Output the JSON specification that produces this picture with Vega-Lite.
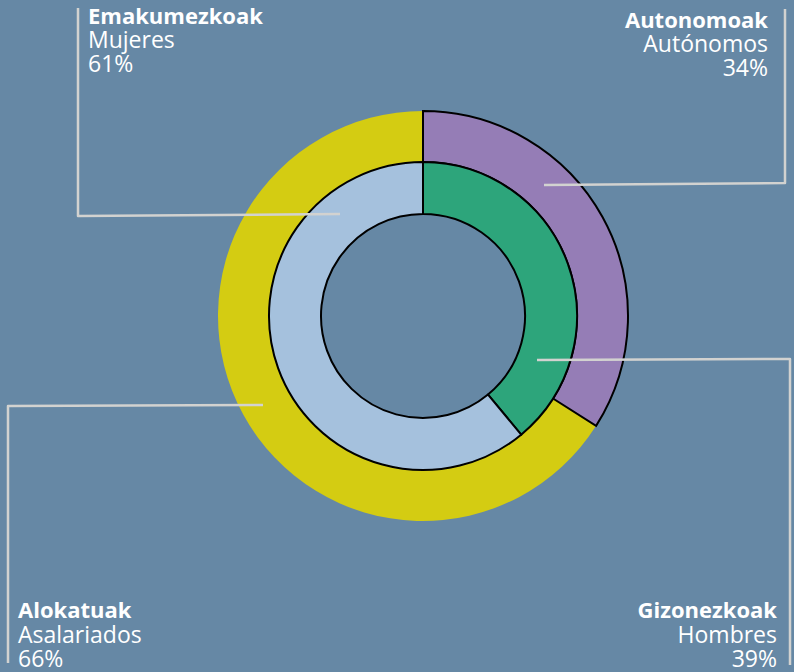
{
  "$schema": "https://vega.github.io/schema/vega-lite/v6.json",
  "width": 794,
  "height": 672,
  "autosize": {"type": "fit", "contains": "padding"},
  "padding": 0,
  "background": "#6688A5",
  "config": {"view": {"stroke": null}, "font": "Open Sans"},
  "datasets": {
    "rings": [
      {"ring": "outer", "key": "Autonomoak", "value": 34, "k": 1},
      {"ring": "outer", "key": "Alokatuak", "value": 66, "k": 2},
      {"ring": "inner", "key": "Gizonezkoak", "value": 39, "k": 1},
      {"ring": "inner", "key": "Emakumezkoak", "value": 61, "k": 2}
    ],
    "leaders": [
      {"g": "Emakumezkoak", "i": 1, "x": 78, "y": 8},
      {"g": "Emakumezkoak", "i": 2, "x": 78, "y": 216},
      {"g": "Emakumezkoak", "i": 3, "x": 340, "y": 214},
      {"g": "Autonomoak", "i": 1, "x": 544, "y": 185},
      {"g": "Autonomoak", "i": 2, "x": 785, "y": 183},
      {"g": "Autonomoak", "i": 3, "x": 785, "y": 9},
      {"g": "Gizonezkoak", "i": 1, "x": 537, "y": 360},
      {"g": "Gizonezkoak", "i": 2, "x": 790, "y": 359},
      {"g": "Gizonezkoak", "i": 3, "x": 790, "y": 665},
      {"g": "Alokatuak", "i": 1, "x": 263, "y": 405},
      {"g": "Alokatuak", "i": 2, "x": 8, "y": 406},
      {"g": "Alokatuak", "i": 3, "x": 8, "y": 663}
    ],
    "labels": [
      {"line": 1, "side": "left", "t": "Emakumezkoak", "x": 88, "y": 24},
      {"line": 2, "side": "left", "t": "Mujeres", "x": 88, "y": 48},
      {"line": 3, "side": "left", "t": "61%", "x": 88, "y": 72},
      {"line": 1, "side": "right", "t": "Autonomoak", "x": 768, "y": 28},
      {"line": 2, "side": "right", "t": "Autónomos", "x": 768, "y": 52},
      {"line": 3, "side": "right", "t": "34%", "x": 768, "y": 76},
      {"line": 1, "side": "right", "t": "Gizonezkoak", "x": 777, "y": 618},
      {"line": 2, "side": "right", "t": "Hombres", "x": 777, "y": 643},
      {"line": 3, "side": "right", "t": "39%", "x": 777, "y": 667},
      {"line": 1, "side": "left", "t": "Alokatuak", "x": 18, "y": 618},
      {"line": 2, "side": "left", "t": "Asalariados", "x": 18, "y": 643},
      {"line": 3, "side": "left", "t": "66%", "x": 18, "y": 667}
    ]
  },
  "layer": [
    {
      "data": {"name": "rings"},
      "transform": [{"filter": "datum.ring === 'outer'"}],
      "mark": {"type": "arc", "radius": 205, "radius2": 154},
      "encoding": {
        "x": {"datum": 423, "type": "quantitative", "scale": {"domain": [0, 794], "nice": false, "zero": false}, "axis": null},
        "y": {"datum": 316, "type": "quantitative", "scale": {"domain": [0, 672], "nice": false, "zero": false, "reverse": true}, "axis": null},
        "theta": {"field": "value", "type": "quantitative", "stack": true},
        "order": {"field": "k", "type": "quantitative"},
        "color": {"field": "key", "type": "nominal", "legend": null,
          "scale": {"domain": ["Autonomoak", "Alokatuak", "Gizonezkoak", "Emakumezkoak"], "range": ["#957DB6", "#D4CC12", "#2DA57B", "#A5C1DD"]}}
      }
    },
    {
      "data": {"name": "rings"},
      "transform": [{"filter": "datum.ring === 'outer'"}],
      "mark": {"type": "arc", "radius": 205, "radius2": 154, "fillOpacity": 0, "stroke": "#000000", "strokeWidth": 2},
      "encoding": {
        "x": {"datum": 423, "type": "quantitative", "axis": null},
        "y": {"datum": 316, "type": "quantitative", "axis": null},
        "theta": {"field": "value", "type": "quantitative", "stack": true},
        "order": {"field": "k", "type": "quantitative"},
        "strokeOpacity": {"condition": {"test": "datum.key === 'Autonomoak'", "value": 1}, "value": 0}
      }
    },
    {
      "data": {"name": "rings"},
      "transform": [{"filter": "datum.ring === 'inner'"}],
      "mark": {"type": "arc", "radius": 154, "radius2": 102, "stroke": "#000000", "strokeWidth": 2},
      "encoding": {
        "x": {"datum": 423, "type": "quantitative", "axis": null},
        "y": {"datum": 316, "type": "quantitative", "axis": null},
        "theta": {"field": "value", "type": "quantitative", "stack": true},
        "order": {"field": "k", "type": "quantitative"},
        "color": {"field": "key", "type": "nominal", "legend": null}
      }
    },
    {
      "data": {"name": "leaders"},
      "mark": {"type": "line", "color": "#D2D2D0", "strokeWidth": 2.5, "strokeJoin": "round"},
      "encoding": {
        "x": {"field": "x", "type": "quantitative", "axis": null},
        "y": {"field": "y", "type": "quantitative", "axis": null},
        "detail": {"field": "g", "type": "nominal"},
        "order": {"field": "i", "type": "quantitative"}
      }
    },
    {
      "data": {"name": "labels"},
      "transform": [{"filter": "datum.line === 1 && datum.side === 'left'"}],
      "mark": {"type": "text", "align": "left", "baseline": "alphabetic", "fontSize": 22, "fontWeight": "bold", "color": "#FFFFFF"},
      "encoding": {
        "x": {"field": "x", "type": "quantitative", "axis": null},
        "y": {"field": "y", "type": "quantitative", "axis": null},
        "text": {"field": "t"}
      }
    },
    {
      "data": {"name": "labels"},
      "transform": [{"filter": "datum.line === 1 && datum.side === 'right'"}],
      "mark": {"type": "text", "align": "right", "baseline": "alphabetic", "fontSize": 22, "fontWeight": "bold", "color": "#FFFFFF"},
      "encoding": {
        "x": {"field": "x", "type": "quantitative", "axis": null},
        "y": {"field": "y", "type": "quantitative", "axis": null},
        "text": {"field": "t"}
      }
    },
    {
      "data": {"name": "labels"},
      "transform": [{"filter": "datum.line > 1 && datum.side === 'left'"}],
      "mark": {"type": "text", "align": "left", "baseline": "alphabetic", "fontSize": 23, "fontWeight": "normal", "color": "#FFFFFF"},
      "encoding": {
        "x": {"field": "x", "type": "quantitative", "axis": null},
        "y": {"field": "y", "type": "quantitative", "axis": null},
        "text": {"field": "t"}
      }
    },
    {
      "data": {"name": "labels"},
      "transform": [{"filter": "datum.line > 1 && datum.side === 'right'"}],
      "mark": {"type": "text", "align": "right", "baseline": "alphabetic", "fontSize": 23, "fontWeight": "normal", "color": "#FFFFFF"},
      "encoding": {
        "x": {"field": "x", "type": "quantitative", "axis": null},
        "y": {"field": "y", "type": "quantitative", "axis": null},
        "text": {"field": "t"}
      }
    }
  ]
}
